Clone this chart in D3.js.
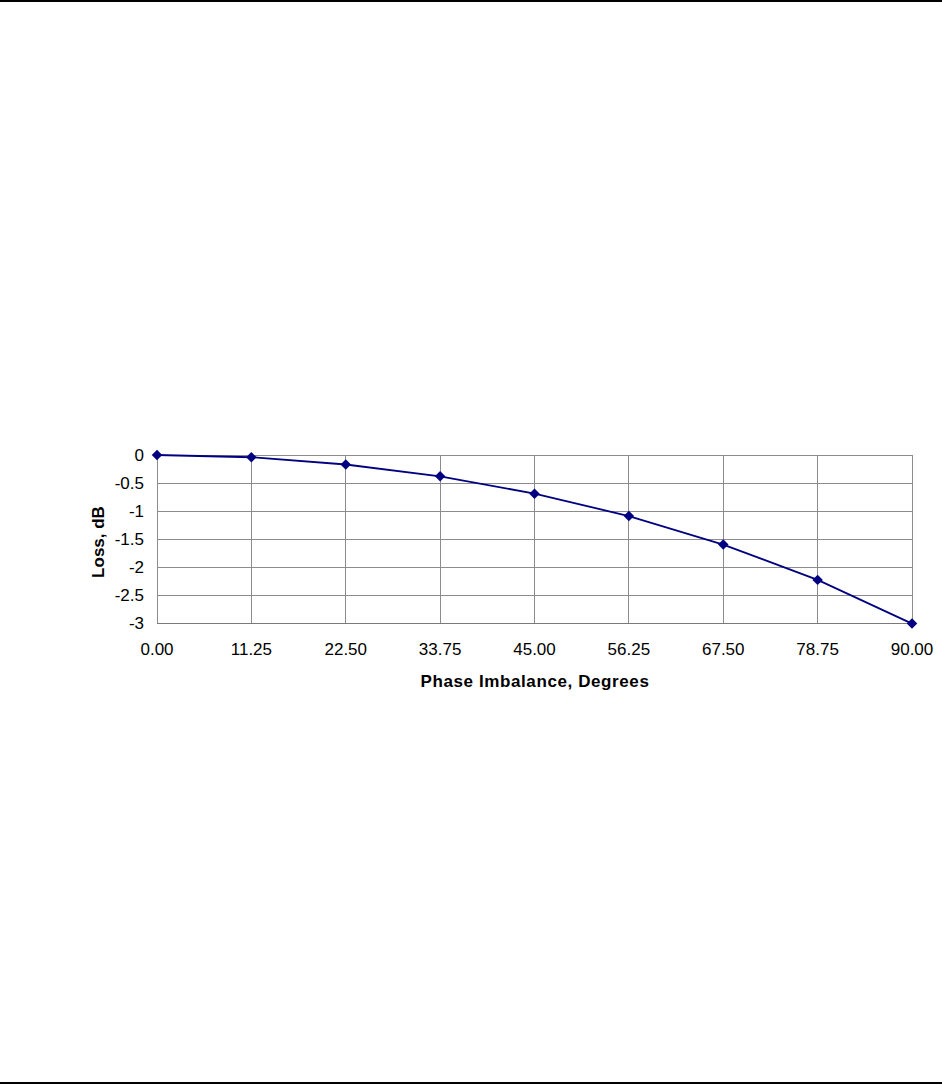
<!DOCTYPE html>
<html><head><meta charset="utf-8">
<script src="https://cdn.jsdelivr.net/npm/d3@7"></script>
<style>body{margin:0;background:#fff}svg{display:block}</style>
</head><body>
<script>
const phase = [0, 11.25, 22.5, 33.75, 45, 56.25, 67.5, 78.75, 90];
const loss = [0, -0.04, -0.17, -0.38, -0.69, -1.09, -1.60, -2.23, -3.01];
const xTicks = [0, 11.25, 22.5, 33.75, 45, 56.25, 67.5, 78.75, 90];
const yTicks = [0, -0.5, -1, -1.5, -2, -2.5, -3];
const xTitle = "Phase Imbalance, Degrees";
const yTitle = "Loss, dB";

const W = 942, H = 1084;
const svg = d3.select("body").append("svg").attr("width", W).attr("height", H);
svg.append("rect").attr("x",0).attr("y",0).attr("width",W).attr("height",2).attr("fill","#000");
svg.append("rect").attr("x",0).attr("y",1082).attr("width",W).attr("height",2).attr("fill","#000");

const x = d3.scaleLinear().domain([0, 90]).range([157, 912]);
const y = d3.scaleLinear().domain([-3, 0]).range([623, 455]);
const font = "'Liberation Sans', Arial, sans-serif";

const g = svg.append("g");
g.selectAll(".hg").data(yTicks).join("line")
  .attr("x1", x(0)).attr("x2", x(90))
  .attr("y1", d => y(d)).attr("y2", d => y(d))
  .attr("stroke", d => d === -3 ? "#7a7a7a" : "#8c8c8c").attr("stroke-width", 1).attr("shape-rendering","crispEdges");
g.selectAll(".vg").data(xTicks).join("line")
  .attr("x1", d => x(d)).attr("x2", d => x(d))
  .attr("y1", y(0)).attr("y2", y(-3))
  .attr("stroke", "#8c8c8c").attr("stroke-width", 1).attr("shape-rendering","crispEdges");

g.selectAll(".yl").data(yTicks).join("text")
  .attr("x", 144).attr("y", d => y(d)).attr("dy", "0.35em")
  .attr("text-anchor", "end").attr("font-family", font).attr("font-size", 17)
  .text(d => d3.format("")(d).replace("\u2212","-"));
g.selectAll(".xl").data(xTicks).join("text")
  .attr("x", d => x(d)).attr("y", 655)
  .attr("text-anchor", "middle").attr("font-family", font).attr("font-size", 17)
  .text(d => d.toFixed(2));

svg.append("text").attr("x", 535).attr("y", 687).attr("text-anchor","middle")
  .attr("font-family", font).attr("font-size", 17).attr("font-weight","bold")
  .attr("letter-spacing", 0.6).text(xTitle);
svg.append("text").attr("transform","translate(104,542) rotate(-90)").attr("text-anchor","middle")
  .attr("font-family", font).attr("font-size", 17).attr("font-weight","bold").text(yTitle);

const data = phase.map((p,i) => [p, loss[i]]);
svg.append("path").datum(data)
  .attr("d", d3.line().x(d => x(d[0])).y(d => y(d[1])))
  .attr("fill","none").attr("stroke","#000080").attr("stroke-width",1.8);
svg.selectAll(".pt").data(data).join("path")
  .attr("transform", d => `translate(${x(d[0])},${y(d[1])})`)
  .attr("d", d3.symbol().type(d3.symbolDiamond2).size(70))
  .attr("fill","#000080");
</script>
</body></html>
